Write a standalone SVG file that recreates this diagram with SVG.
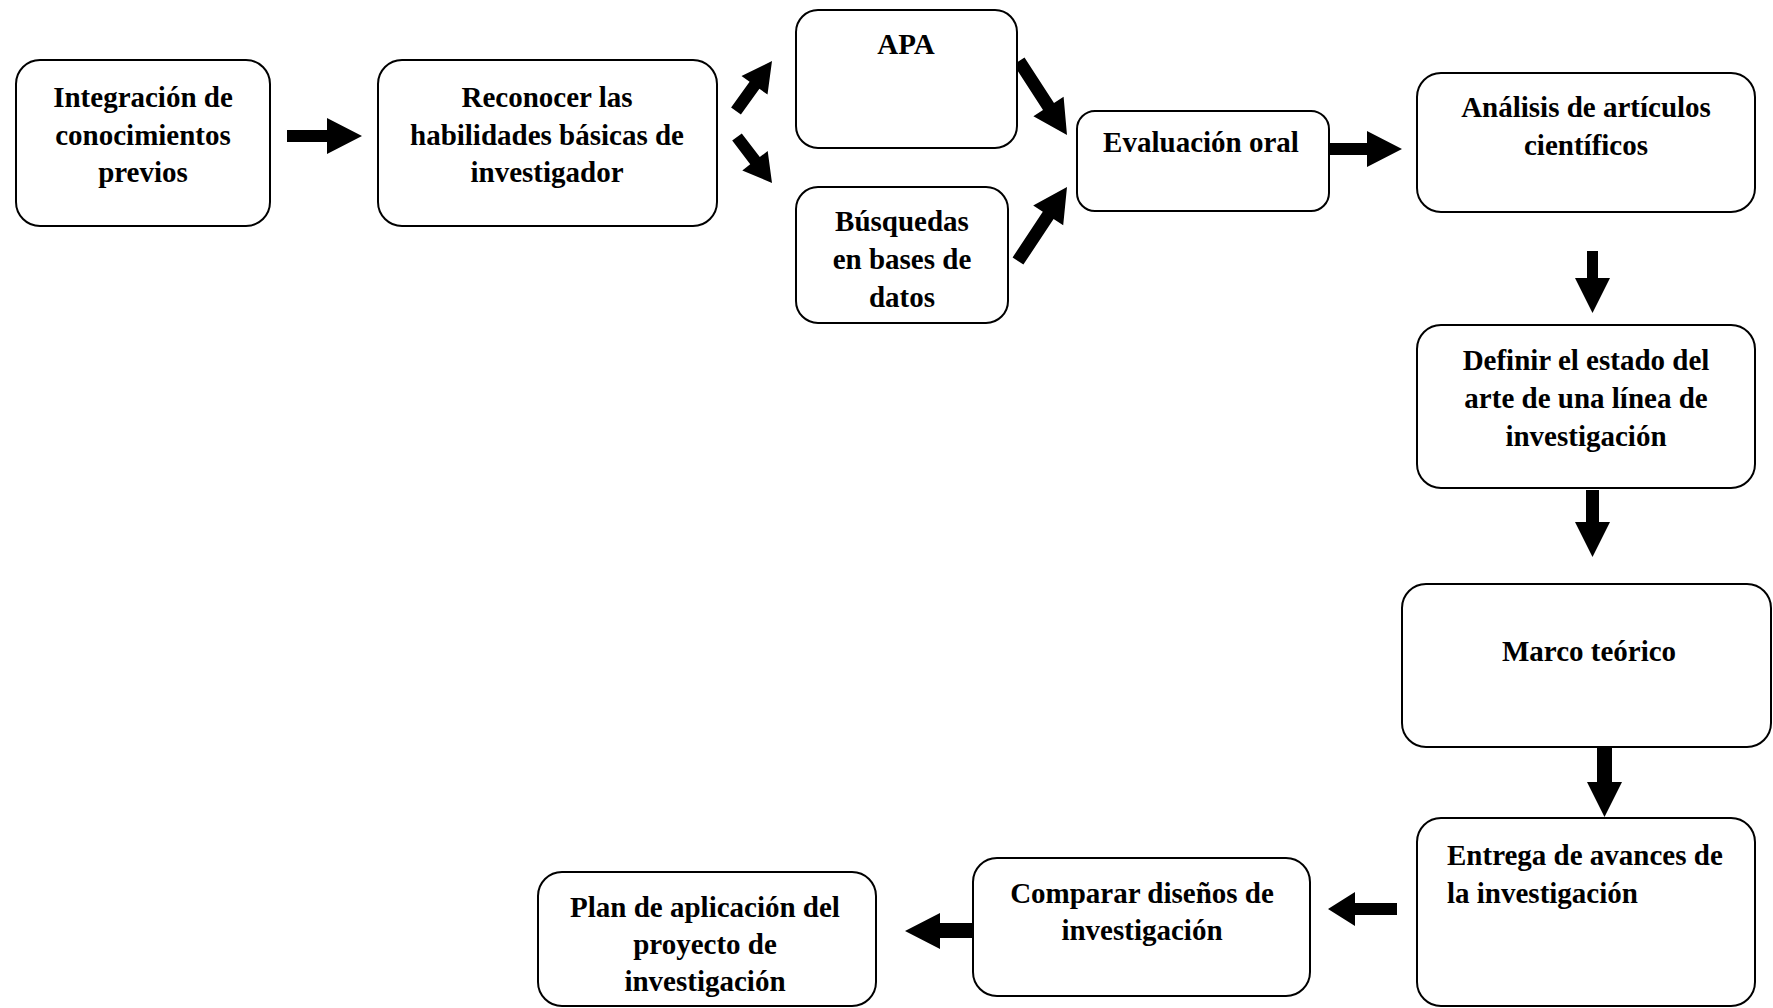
<svg xmlns="http://www.w3.org/2000/svg" width="1773" height="1008" viewBox="0 0 1773 1008">
<style>
.box{fill:#fff;stroke:#000;stroke-width:2}
.t{font-family:"Liberation Serif","Times New Roman",serif;font-weight:bold;font-size:29px;fill:#000;text-anchor:middle}
.l{text-anchor:start}
.arr{fill:#000;stroke:none}
</style>
<rect width="1773" height="1008" fill="#fff"/>
<g id="connectors">
<polygon class="arr" points="287,130 327,130 327,118 362,136 327,154 327,142 287,142"/>
<polygon class="arr" points="731.1,107.5 749.6,81.8 741.5,76 772,61 767.5,94.6 759.4,88.8 740.9,114.5"/>
<polygon class="arr" points="741.8,133.4 759.8,157.1 767.7,151 772,183 742.3,170.4 750.2,164.3 732.2,140.6"/>
<polygon class="arr" points="1024.5,57.5 1054,103 1063.6,96.7 1067,135 1033.4,116.3 1043,110 1013.5,64.5"/>
<polygon class="arr" points="1012.6,257.4 1042.8,211.7 1033.2,205.4 1067,187 1063.2,225.2 1053.6,218.9 1023.4,264.6"/>
<polygon class="arr" points="1329,143 1367,143 1367,131 1402,149 1367,167 1367,155 1329,155"/>
<polygon class="arr" points="1587,251 1598,251 1598,278 1610,278 1592.5,313 1575,278 1587,278"/>
<polygon class="arr" points="1586,490 1599,490 1599,522 1610,522 1592.5,557 1575,522 1586,522"/>
<polygon class="arr" points="1597,748 1612,748 1612,782 1622,782 1604.5,817 1587,782 1597,782"/>
<polygon class="arr" points="1397,903 1355,903 1355,892 1328,909 1355,926 1355,915 1397,915"/>
<polygon class="arr" points="973,923 940,923 940,913 905,931 940,949 940,938 973,938"/>
</g>
<g id="n1">
<rect class="box" x="16" y="60" width="254" height="166" rx="24"/>
<text class="t" x="143" y="107">Integración de</text>
<text class="t" x="143" y="145">conocimientos</text>
<text class="t" x="143" y="182">previos</text>
</g>
<g id="n2">
<rect class="box" x="378" y="60" width="339" height="166" rx="24"/>
<text class="t" x="547" y="107">Reconocer las</text>
<text class="t" x="547" y="145">habilidades básicas de</text>
<text class="t" x="547" y="182">investigador</text>
</g>
<g id="n3">
<rect class="box" x="796" y="10" width="221" height="138" rx="22"/>
<text class="t" x="906" y="54">APA</text>
</g>
<g id="n4">
<rect class="box" x="796" y="187" width="212" height="136" rx="22"/>
<text class="t" x="902" y="231">Búsquedas</text>
<text class="t" x="902" y="269">en bases de</text>
<text class="t" x="902" y="307">datos</text>
</g>
<g id="n5">
<rect class="box" x="1077" y="111" width="252" height="100" rx="18"/>
<text class="t" x="1201" y="152">Evaluación oral</text>
</g>
<g id="n6">
<rect class="box" x="1417" y="73" width="338" height="139" rx="24"/>
<text class="t" x="1586" y="117">Análisis de artículos</text>
<text class="t" x="1586" y="155">científicos</text>
</g>
<g id="n7">
<rect class="box" x="1417" y="325" width="338" height="163" rx="24"/>
<text class="t" x="1586" y="370">Definir el estado del</text>
<text class="t" x="1586" y="408">arte de una línea de</text>
<text class="t" x="1586" y="446">investigación</text>
</g>
<g id="n8">
<rect class="box" x="1402" y="584" width="369" height="163" rx="24"/>
<text class="t" x="1589" y="661">Marco teórico</text>
</g>
<g id="n9">
<rect class="box" x="1417" y="818" width="338" height="188" rx="24"/>
<text class="t l" x="1447" y="865">Entrega de avances de</text>
<text class="t l" x="1447" y="903">la investigación</text>
</g>
<g id="n10">
<rect class="box" x="973" y="858" width="337" height="138" rx="24"/>
<text class="t" x="1142" y="903">Comparar diseños de</text>
<text class="t" x="1142" y="940">investigación</text>
</g>
<g id="n11">
<rect class="box" x="538" y="872" width="338" height="134" rx="24"/>
<text class="t" x="705" y="917">Plan de aplicación del</text>
<text class="t" x="705" y="954">proyecto de</text>
<text class="t" x="705" y="991">investigación</text>
</g>
</svg>
